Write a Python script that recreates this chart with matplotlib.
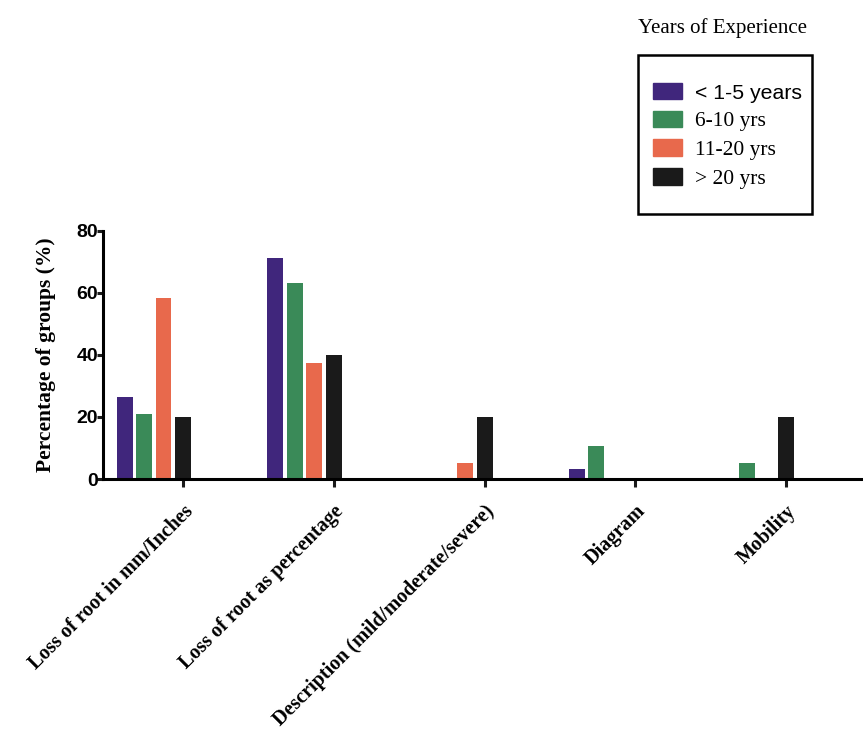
import numpy as np
import matplotlib
matplotlib.use("Agg")
import matplotlib.pyplot as plt
from matplotlib.patches import Patch, Rectangle

categories = ["Loss of root in mm/Inches", "Loss of root as percentage",
              "Description (mild/moderate/severe)", "Diagram", "Mobility"]
series = ["< 1-5 years", "6-10 yrs", "11-20 yrs", "> 20 yrs"]
yrs_1_5 = [26.3, 71.4, 0, 3.3, 0]
yrs_6_10 = [21.1, 63.2, 0, 10.5, 5.3]
yrs_11_20 = [58.3, 37.5, 5.3, 0, 0]
yrs_20_plus = [20.0, 40.0, 20.0, 0, 20.0]
colors = ["#40267c", "#3a8a58", "#e8694c", "#1a1a1a"]

values = [yrs_1_5, yrs_6_10, yrs_11_20, yrs_20_plus]

fig = plt.figure(figsize=(8.63, 7.52), dpi=100)
ax = fig.add_axes([0.1194, 0.363, 0.8806, 0.330])

x = np.arange(len(categories))
pitch = 0.129
w = 0.106
for i, (vals, c) in enumerate(zip(values, colors)):
    ax.bar(x + (i - 3) * pitch, vals, width=w, color=c, label=series[i])

ax.set_xlim(-0.53, 4.51)
ax.set_ylim(0, 80)
ax.set_yticks([0, 20, 40, 60, 80])
ax.set_xticks(x)
ax.set_xticklabels(categories, rotation=45, ha="right", va="top",
                   rotation_mode="anchor", family="Liberation Serif",
                   fontweight="bold", fontsize=14.5)
for lab in ax.get_yticklabels():
    lab.set_family("Liberation Sans")
    lab.set_fontweight("bold")
    lab.set_fontsize(14)

ax.spines["top"].set_visible(False)
ax.spines["right"].set_visible(False)
ax.spines["left"].set_linewidth(2.2)
ax.spines["bottom"].set_linewidth(2.2)
ax.tick_params(axis="both", direction="out", width=2.2, color="#1a1a1a")
ax.tick_params(axis="y", length=4.5, pad=-1)
ax.tick_params(axis="x", length=6, pad=10)
ax.set_ylabel("Percentage of groups (%)", family="Liberation Serif",
              fontweight="bold", fontsize=15.5, labelpad=15)

# legend: drawn frameless, box added by hand
handles = [Patch(facecolor=c, edgecolor=c) for c in colors]
leg = fig.legend(handles, series, loc="upper left", bbox_to_anchor=(653 / 863, 1 - 83 / 752),
                 frameon=False, fontsize=15.5, borderpad=0, borderaxespad=0,
                 handlelength=1.35, handleheight=0.8, labelspacing=0.37,
                 handletextpad=0.6)
for k, t in enumerate(leg.get_texts()):
    if k == 0:
        t.set_family("Liberation Sans")
        t.set_fontsize(15.3)
    else:
        t.set_family("Liberation Serif")

fig.patches.append(Rectangle((638 / 863, 1 - 214 / 752), 174 / 863, 159 / 752,
                             transform=fig.transFigure, fill=False,
                             edgecolor="black", linewidth=1.8))

fig.text(722 / 863, 1 - 28 / 752, "Years of Experience", family="Liberation Serif",
         fontsize=15, ha="center", va="center")

fig.savefig("out.png", dpi=100)
